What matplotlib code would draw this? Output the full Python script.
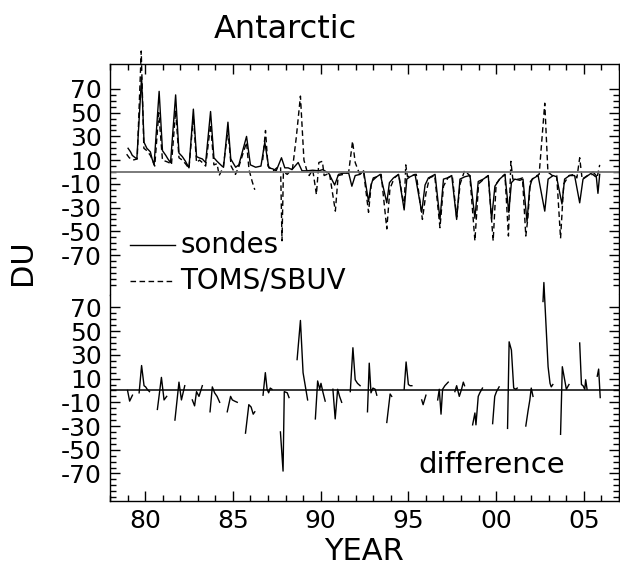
import numpy as np
import matplotlib
matplotlib.use("Agg")
import matplotlib.pyplot as plt
from matplotlib.ticker import FixedLocator

nan = np.nan

###### data (year, DU) ######
sondes_year = [1979.03, 1979.17, 1979.27, 1979.53, 1979.80, 1979.94, 1980.10, 1980.30, 1980.40, 1980.51,
               1980.80, 1980.99, 1981.18, 1981.30, 1981.45, 1981.74, 1981.93, 1982.12, 1982.30, 1982.50,
               1982.75, 1982.93, 1983.07, 1983.26, 1983.45, 1983.73, 1983.92, 1984.10, 1984.38, 1984.47,
               1984.72, 1984.88, 1985.16, 1985.34, 1985.78, 1986.00, 1986.30, 1986.60, 1986.82, 1987.05,
               1987.28, 1987.47, 1987.77, 1987.96, 1988.15, 1988.37, 1988.72, 1988.94, 1989.22, 1989.55,
               1989.89, 1990.12, 1990.46, 1990.80, 1991.02, 1991.30, 1991.60, 1991.78, 1991.97, 1992.25,
               1992.45, 1992.73, 1992.86, 1993.00, 1993.20, 1993.40, 1993.77, 1993.92, 1994.15, 1994.44,
               1994.76, 1994.91, 1995.10, 1995.38, 1995.76, 1995.95, 1996.14, 1996.52, 1996.80, 1997.00,
               1997.22, 1997.47, 1997.75, 1997.94, 1998.22, 1998.51, 1998.79, 1998.98, 1999.27, 1999.55,
               1999.74, 1999.93, 2000.20, 2000.50, 2000.72, 2000.87, 2001.06, 2001.35, 2001.53, 2001.76,
               2001.91, 2002.05, 2002.39, 2002.77, 2002.96, 2003.25, 2003.44, 2003.75, 2003.90, 2004.18,
               2004.47, 2004.76, 2004.95, 2005.23, 2005.52, 2005.70, 2005.80, 2005.90]
sondes_du = [20, 17, 14, 11, 80, 25, 20, 17, 11, 6,
             68, 18, 14, 11, 8, 65, 16, 13, 9, 3.5,
             53, 13, 12, 11, 8, 51, 12, 9, 5, 4,
             42, 11, 4, 6, 30, 6, 4, 5, 25, 3.5,
             2.6, 1, 12, 3.5, 3.5, 2, 8, 1, 1, 1.5,
             1, 2, -1, -11, -2, -1, -1, -12, -3, -2,
             1, -25, -12, -5, -4, -2, -26, -9, -5, -2,
             -32, -6, -4, -2, -34, -11, -5, -2, -40, -6,
             -5, -3, -40, -6, -4, -3, -39, -8, -6, -3,
             -40, -12, -6, -2, -34, -9, -6, -7, -6, -42,
             -13, -6, -3, -33, -6, -3, -4, -27, -6, -3,
             -3, -26, -6, -3, 0, -3, -18, -2]

toms_year = [1978.95, 1979.10, 1979.30, 1979.55, 1979.78, 1979.93, 1980.10, 1980.30, 1980.45, 1980.55,
             1980.78, 1980.99, 1981.18, 1981.35, 1981.50, 1981.74, 1981.93, 1982.12, 1982.30, 1982.50,
             1982.75, 1982.93, 1983.10, 1983.26, 1983.45, 1983.73, 1983.92, 1984.10, 1984.22, 1984.45,
             1984.72, 1984.90, 1985.15, 1985.35, 1985.78, 1985.92, 1986.10, 1986.25, 1986.45, 1986.70,
             1986.86, 1987.00, 1987.30, 1987.55, 1987.72, 1987.80, 1987.88, 1988.10, 1988.40, 1988.62,
             1988.85, 1989.05, 1989.20, 1989.35, 1989.55, 1989.76, 1989.90, 1990.10, 1990.20, 1990.50,
             1990.84, 1991.00, 1991.30, 1991.60, 1991.82, 1991.97, 1992.20, 1992.45, 1992.73, 1992.90,
             1993.20, 1993.45, 1993.77, 1993.95, 1994.20, 1994.45, 1994.76, 1994.85, 1994.95, 1995.20,
             1995.45, 1995.80, 1996.00, 1996.20, 1996.50, 1996.80, 1997.00, 1997.25, 1997.50, 1997.75,
             1997.95, 1998.20, 1998.50, 1998.79, 1999.00, 1999.30, 1999.55, 1999.83, 2000.00, 2000.25,
             2000.50, 2000.70, 2000.84, 2000.95, 2001.30, 2001.50, 2001.69, 2001.80, 2001.95, 2002.20,
             2002.45, 2002.77, 2002.95, 2003.20, 2003.45, 2003.67, 2003.85, 2004.15, 2004.45, 2004.60,
             2004.76, 2004.90, 2005.20, 2005.50, 2005.75, 2005.90]
toms_du = [15, 12, 10, 11, 102, 20, 18, 14, 9, 5,
           50, 10, 9, 8, 6, 52, 12, 10, 7, 3,
           47, 8, 10, 8, 5, 40, 6, 7, -3, 4,
           35, 5, -2, 5, 25, 2, -8, -15, nan, 10,
           35, 5, 1, 4, 4, -58, 0, -2, 3, 30,
           64, 10, 2, -3, 2, -19, 8, 9, -3, -1,
           -33, -3, -2, 0, 26, 8, -1, 0, -34, -8,
           -4, -2, -48, -14, -5, -2, -30, 6, -4, -3,
           -2, -40, -18, -5, -3, -47, -12, -5, -3, -38,
           -10, 1, -3, -58, -10, -6, -3, -58, -10, -5,
           -2, -54, 9, -6, -6, -5, -54, -40, -8, -4,
           -2, 58, 0, -3, -3, -56, -10, -3, -2, -5,
           12, -6, -3, -2, -5, 6]

diff_year = [1979.00, 1979.12, 1979.28, nan,
             1979.66, 1979.80, 1979.94, 1980.03, 1980.12, 1980.25, nan,
             1980.70, 1980.93, 1981.08, 1981.23, nan,
             1981.70, 1981.93, 1982.07, 1982.26, nan,
             1982.69, 1982.82, 1982.93, 1983.07, 1983.26, nan,
             1983.70, 1983.83, 1983.96, 1984.10, 1984.25, nan,
             1984.68, 1984.87, 1984.97, 1985.10, 1985.25, nan,
             1985.72, 1985.91, 1986.04, 1986.16, 1986.25, nan,
             1986.72, 1986.85, 1986.95, 1987.04, 1987.13, 1987.23, nan,
             1987.71, 1987.86, 1987.93, 1988.10, 1988.20, nan,
             1988.66, 1988.85, 1989.00, 1989.26, nan,
             1989.70, 1989.83, 1989.95, 1990.02, 1990.14, 1990.26, nan,
             1990.70, 1990.83, 1990.97, 1991.08, 1991.20, nan,
             1991.69, 1991.84, 1991.97, 1992.10, 1992.25, nan,
             1992.67, 1992.77, 1992.87, 1992.98, 1993.11, 1993.20, nan,
             1993.77, 1993.96, 1994.05, nan,
             1994.76, 1994.87, 1995.00, 1995.10, 1995.20, nan,
             1995.76, 1995.84, 1996.00, nan,
             1996.67, 1996.76, 1996.86, 1996.95, 1997.08, 1997.27, nan,
             1997.65, 1997.75, 1997.90, 1998.03, 1998.13, 1998.20, nan,
             1998.66, 1998.79, 1998.85, 1998.98, 1999.07, 1999.22, nan,
             1999.80, 1999.92, 2000.02, 2000.17, nan,
             2000.65, 2000.74, 2000.87, 2001.00, 2001.12, 2001.20, nan,
             2001.69, 2001.82, 2001.92, 2002.00, 2002.10, nan,
             2002.67, 2002.72, 2002.96, 2003.07, 2003.14, 2003.23, nan,
             2003.67, 2003.77, 2003.90, 2004.00, 2004.15, nan,
             2004.76, 2004.86, 2004.95, 2005.05, 2005.10, 2005.18, nan,
             2005.76, 2005.84, 2005.93]
diff_du = [0, -9, -4, nan,
           -2, 21, 4, 3, 1, -1, nan,
           -16, 11, -8, -5, nan,
           -25, 7, -8, 4, nan,
           -8, -13, -1, -5, 4, nan,
           -18, 3, -2, -5, -10, nan,
           -18, -5, -8, -9, -10, nan,
           -36, -12, -14, -20, -18, nan,
           -4, 15, 1, -2, 2, 1, nan,
           -35, -68, -1, -2, -6, nan,
           26, 59, 15, -8, nan,
           -24, 8, 1, 6, -2, -9, nan,
           1, -24, 1, -5, -10, nan,
           -1, 36, 9, 6, 4, nan,
           -18, 23, -2, 2, 1, -4, nan,
           -27, -3, -5, nan,
           1, 24, 5, 4, 4, nan,
           -8, -12, -4, nan,
           -8, 1, -20, 1, 4, 7, nan,
           -1, 4, -5, 1, 7, 4, nan,
           -29, -19, -29, -5, -2, 2, nan,
           -28, -5, -1, 3, nan,
           -32, 41, 34, 2, 1, 2, nan,
           -30, -17, -8, 2, -5, nan,
           75, 91, 20, 6, 3, 5, nan,
           -37, 20, 9, 1, 5, nan,
           40, 5, 4, 1, 9, 1, nan,
           12, 18, -6]

year_ticks = [1980, 1985, 1990, 1995, 2000, 2005]
year_labels = ["80", "85", "90", "95", "00", "05"]
du_ticks = [70, 50, 30, 10, -10, -30, -50, -70]

###### figure ######
fig = plt.figure(figsize=(6.2, 5.7), dpi=100)
ax1 = fig.add_axes([0.1774, 0.4825, 0.821, 0.4053])
ax2 = fig.add_axes([0.1774, 0.1211, 0.821, 0.3614])

dash = (0, (4, 2.5))
ax1.plot(sondes_year, sondes_du, color='black', lw=1.0, clip_on=False)
ax1.plot(toms_year, toms_du, color='black', lw=1.0, ls=dash, clip_on=False)
ax1.axhline(0, color='#707070', lw=1.3)
ax2.plot(diff_year, diff_du, color='black', lw=1.0, clip_on=False)
ax2.axhline(0, color='black', lw=1.1)

ax1.set_ylim(-103.7, 91.1)
ax2.set_ylim(-93.2, 80.5)
for ax, minors in ((ax1, np.arange(-95, 71, 5)), (ax2, np.arange(-90, 71, 5))):
    ax.set_xlim(1978.0, 2007.0)
    ax.set_yticks(du_ticks)
    ax.set_yticklabels([str(t) for t in du_ticks])
    ax.yaxis.set_minor_locator(FixedLocator(minors))
    ax.set_xticks(year_ticks)
    ax.xaxis.set_minor_locator(FixedLocator(np.arange(1978, 2008, 1)))
    ax.tick_params(axis='both', which='major', direction='in', length=7, width=1,
                   labelsize=18, right=True, pad=6)
    ax.tick_params(axis='both', which='minor', direction='in', length=4, width=1, right=True)
    for s in ax.spines.values():
        s.set_linewidth(1.0)

ax1.spines['bottom'].set_visible(False)
ax1.tick_params(axis='x', which='both', bottom=False, labelbottom=False, top=True)
ax2.spines['top'].set_visible(False)
ax2.tick_params(axis='x', which='both', top=False)
ax2.set_xticklabels(year_labels)

# legend
ax1.plot([0.039, 0.128], [0.216, 0.216], transform=ax1.transAxes, color='black', lw=1.0)
ax1.text(0.138, 0.216, "sondes", transform=ax1.transAxes, fontsize=20, va='center')
ax1.plot([0.039, 0.128], [0.061, 0.061], transform=ax1.transAxes, color='black', lw=1.0, ls=dash)
ax1.text(0.138, 0.061, "TOMS/SBUV", transform=ax1.transAxes, fontsize=20, va='center')

ax2.text(0.605, 0.175, "difference", transform=ax2.transAxes, fontsize=21, va='center')

fig.text(285 / 620, 1 - 30 / 570, "Antarctic", fontsize=23, ha='center', va='center')
fig.text(22 / 620, 1 - 262 / 570, "DU", fontsize=22, rotation=90, ha='center', va='center')
fig.text(364 / 620, 1 - 552 / 570, "YEAR", fontsize=22, ha='center', va='center')

fig.savefig("out.png", dpi=100)
